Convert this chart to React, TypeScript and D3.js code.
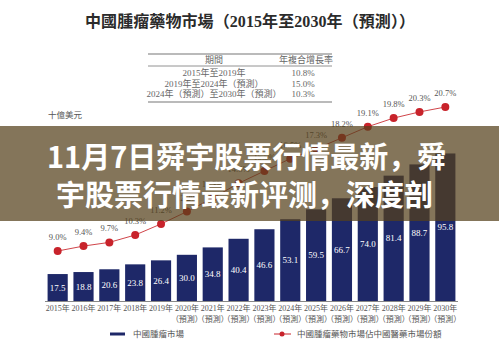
import React, { useRef, useEffect } from "react";
import * as d3 from "d3";

const years = [
  "2015", "2016", "2017", "2018", "2019", "2020", "2021", "2022",
  "2023", "2024", "2025", "2026", "2027", "2028", "2029", "2030",
];
const forecastFrom = 2020;
const marketValues = [
  17.5, 18.8, 20.6, 23.8, 26.4, 30.0, 34.8, 40.4,
  46.6, 53.1, 59.5, 66.7, 74.0, 81.4, 88.7, 95.8,
];
const shareValues = [
  9.0, 9.4, 9.7, 10.3, 11.2, 12.2, 13.3, 14.5,
  15.5, 16.5, 17.3, 18.2, 19.1, 19.8, 20.3, 20.7,
];
const cagrPeriods = ["2015年至2019年", "2019年至2024年（預測）", "2024年（預測）至2030年（預測）"];
const cagrRates = ["10.8%", "15.0%", "10.3%"];

const title = "中國腫瘤藥物市場（2015年至2030年（預測））";
const unitLabel = "十億美元";
const barLegend = "中國腫瘤市場";
const lineLegend = "中國腫瘤藥物市場佔中國醫藥市場份額";
const bannerLines = ["11月7日舜宇股票行情最新，舜", "宇股票行情最新评测，深度剖"];

const serif = "'Liberation Serif', 'Noto Sans CJK TC', serif";
const navy = "#1e2868";
const red = "#c8232b";
const grey = "#555";

const App: React.FC = () => {
  const svgRef = useRef<SVGSVGElement | null>(null);

  useEffect(() => {
    if (!svgRef.current) return;
    const svg = d3.select(svgRef.current);
    svg.selectAll("*").remove();

    const width = 499;
    const height = 351;
    const baseY = 301;

    svg.append("rect").attr("width", width).attr("height", height).attr("fill", "#fff");

    // Title
    svg
      .append("text")
      .attr("x", 250)
      .attr("y", 27)
      .attr("text-anchor", "middle")
      .attr("textLength", 330)
      .style("font-family", serif)
      .style("font-weight", "bold")
      .style("font-size", "16px")
      .style("fill", "#2b2b2b")
      .text(title);

    // CAGR table
    const tbl = svg.append("g").style("font-family", serif).style("font-size", "9px").style("fill", "#666");
    [54, 66, 102].forEach((y) =>
      tbl.append("line").attr("x1", 148).attr("x2", 332).attr("y1", y).attr("y2", y)
        .attr("stroke", "#777").attr("stroke-width", y === 66 ? 0.8 : 1.2)
    );
    tbl.append("text").attr("x", 214).attr("y", 63).attr("text-anchor", "middle").text("期間");
    tbl.append("text").attr("x", 306).attr("y", 63).attr("text-anchor", "middle").text("年複合增長率");
    cagrPeriods.forEach((p, i) => {
      const y = 76 + i * 10.5;
      tbl.append("text").attr("x", 214).attr("y", y).attr("text-anchor", "middle").text(p);
      tbl.append("text").attr("x", 303).attr("y", y).attr("text-anchor", "middle").text(cagrRates[i]);
    });

    // Unit
    svg.append("text").attr("x", 48).attr("y", 118)
      .style("font-family", serif).style("font-size", "8.5px").style("fill", grey).text(unitLabel);

    const x = d3.scaleBand().domain(years).range([45, 458]).paddingInner(0.22).paddingOuter(0.1);
    const yBar = d3.scaleLinear().domain([0, 100]).range([baseY, baseY - 154]);
    const yLine = d3.scaleLinear().domain([9, 20.7]).range([251, 107]);
    const cx = (d: string) => (x(d) || 0) + x.bandwidth() / 2;

    const data = years.map((yr, i) => ({ yr, market: marketValues[i], share: shareValues[i] }));

    // Bars
    svg.selectAll("rect.bar").data(data).enter().append("rect")
      .attr("class", "bar")
      .attr("x", (d) => x(d.yr) || 0)
      .attr("y", (d) => yBar(d.market))
      .attr("width", x.bandwidth())
      .attr("height", (d) => baseY - yBar(d.market))
      .attr("fill", navy);

    svg.selectAll("text.bar-label").data(data).enter().append("text")
      .attr("class", "bar-label")
      .attr("x", (d) => cx(d.yr))
      .attr("y", (d) => (yBar(d.market) + baseY) / 2 + 3)
      .attr("text-anchor", "middle")
      .style("font-family", serif).style("font-size", "9px").style("fill", "#fff")
      .text((d) => d.market.toFixed(1));

    // Axis
    svg.append("line").attr("x1", 45).attr("x2", 458).attr("y1", baseY + 0.5).attr("y2", baseY + 0.5)
      .attr("stroke", "#888").attr("stroke-width", 1);

    const ticks = svg.append("g").style("font-family", serif).style("font-size", "8px").style("fill", grey);
    data.forEach((d) => {
      ticks.append("text").attr("x", cx(d.yr)).attr("y", 311).attr("text-anchor", "middle").text(d.yr + "年");
      if (+d.yr >= forecastFrom) {
        ticks.append("text").attr("x", cx(d.yr)).attr("y", 322).attr("text-anchor", "middle").text("（預測）");
      }
    });

    // Share line
    const line = d3.line<typeof data[number]>().x((d) => cx(d.yr)).y((d) => yLine(d.share));
    svg.append("path").datum(data).attr("d", line).attr("fill", "none").attr("stroke", "#d0454a").attr("stroke-width", 1);
    svg.selectAll("circle.dot").data(data).enter().append("circle")
      .attr("class", "dot")
      .attr("cx", (d) => cx(d.yr)).attr("cy", (d) => yLine(d.share)).attr("r", 4).attr("fill", red);
    svg.selectAll("text.dot-label").data(data).enter().append("text")
      .attr("class", "dot-label")
      .attr("x", (d) => cx(d.yr))
      .attr("y", (d) => yLine(d.share) - 11)
      .attr("text-anchor", "middle")
      .style("font-family", serif).style("font-size", "8.5px").style("fill", grey)
      .text((d) => d.share.toFixed(1) + "%");

    // Legend
    const lg = svg.append("g").style("font-family", serif).style("font-size", "8.5px").style("fill", grey);
    lg.append("line").attr("x1", 110).attr("x2", 125).attr("y1", 334).attr("y2", 334).attr("stroke", navy).attr("stroke-width", 3);
    lg.append("text").attr("x", 133).attr("y", 337).text(barLegend);
    lg.append("line").attr("x1", 274).attr("x2", 291).attr("y1", 334).attr("y2", 334).attr("stroke", red).attr("stroke-width", 1);
    lg.append("circle").attr("cx", 282).attr("cy", 334).attr("r", 2.5).attr("fill", red);
    lg.append("text").attr("x", 297).attr("y", 337).text(lineLegend);

    // Banner overlay
    svg.append("rect").attr("x", 0).attr("y", 126).attr("width", width).attr("height", 95)
      .attr("fill", "rgb(84,64,26)").attr("fill-opacity", 0.72);
    // left / right edges of each banner line in the reference
    const bannerSpan = [[47, 458], [56, 435]];
    bannerLines.forEach((t, i) => {
      const [x0, x1] = bannerSpan[i];
      const txt = svg.append("text")
        .attr("x", 0)
        .attr("y", 0)
        .style("font-family", "'Noto Sans CJK SC', sans-serif")
        .style("font-weight", "bold")
        .style("font-size", "29px")
        .style("fill", "#fff")
        .text(t);
      const node = txt.node() as SVGTextElement;
      const bb = node.getBBox();
      const w = bb.width || x1 - x0;
      const k = Math.min(1, (x1 - x0) / w);
      txt.attr("transform", `translate(${x0 - bb.x * k},${168 + i * 38}) scale(${k},1)`);
    });
  }, []);

  return (
    <svg
      ref={svgRef}
      width={499}
      height={351}
      style={{ position: "absolute", left: 0, top: 0, display: "block" }}
    />
  );
};

export default App;
